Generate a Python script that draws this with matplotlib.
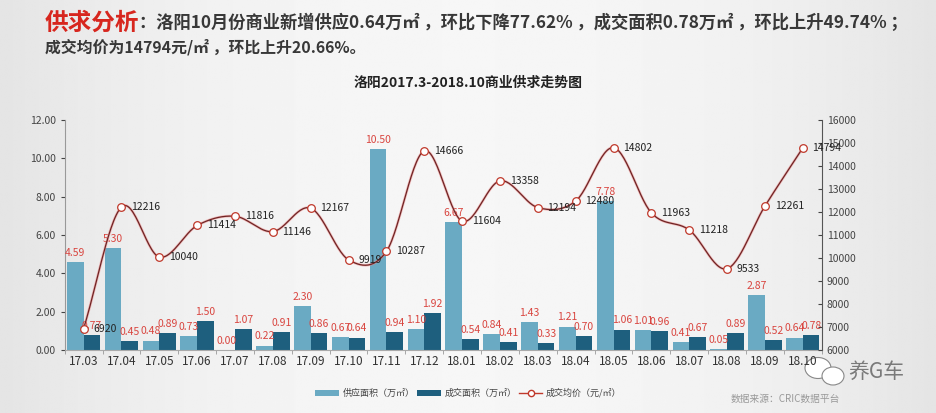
import numpy as np
import matplotlib
matplotlib.use("Agg")
import matplotlib.pyplot as plt
from matplotlib.lines import Line2D
from matplotlib.patches import Ellipse

plt.rcParams['font.family'] = ['Noto Sans CJK SC', 'DejaVu Sans']

months = ['17.03', '17.04', '17.05', '17.06', '17.07', '17.08', '17.09', '17.10',
          '17.11', '17.12', '18.01', '18.02', '18.03', '18.04', '18.05', '18.06',
          '18.07', '18.08', '18.09', '18.10']
supply = [4.59, 5.30, 0.48, 0.73, 0.00, 0.22, 2.30, 0.67, 10.50, 1.10,
          6.67, 0.84, 1.43, 1.21, 7.78, 1.01, 0.41, 0.05, 2.87, 0.64]
deal = [0.77, 0.45, 0.89, 1.50, 1.07, 0.91, 0.86, 0.64, 0.94, 1.92,
        0.54, 0.41, 0.33, 0.70, 1.06, 0.96, 0.67, 0.89, 0.52, 0.78]
price = [6920, 12216, 10040, 11414, 11816, 11146, 12167, 9919, 10287, 14666,
         11604, 13358, 12194, 12480, 14802, 11963, 11218, 9533, 12261, 14794]

light = '#6aaac3'
dark = '#1e5f7e'
red_lab = '#d9453f'

fig = plt.figure(figsize=(9.37, 4.13), dpi=100)
W, H = 937, 413

# soft grey background, darker at the edges
bg = fig.add_axes([0, 0, 1, 1], zorder=-10)
g = np.linspace(-1, 1, 400)
shade = 0.965 - 0.07 * np.abs(g) ** 2.2
bg.imshow(np.tile(shade, (10, 1)), cmap='gray', vmin=0, vmax=1, aspect='auto',
          extent=[0, 1, 0, 1])
bg.set_xlim(0, 1)
bg.set_ylim(0, 1)
bg.axis('off')

ax = fig.add_axes([0.069, 0.153, 0.808, 0.556])
ax.patch.set_alpha(0)
x = np.arange(len(months))
w = 0.44
ax.bar(x - w / 2, supply, w, color=light, label='供应面积（万㎡）', zorder=2)
ax.bar(x + w / 2, deal, w, color=dark, label='成交面积（万㎡）', zorder=2)
for i in range(len(months)):
    ax.annotate(f'{supply[i]:.2f}', (x[i] - w / 2, supply[i]), xytext=(0, 3),
                textcoords='offset points', ha='center', va='bottom',
                fontsize=7.5, color=red_lab, zorder=5)
    ax.annotate(f'{deal[i]:.2f}', (x[i] + w / 2, deal[i]), xytext=(0, 3),
                textcoords='offset points', ha='center', va='bottom',
                fontsize=7.5, color=red_lab, zorder=5)

ax.set_xlim(-0.5, len(months) - 0.5)
ax.set_ylim(0, 12)
ax.set_yticks(np.arange(0, 12.1, 2))
ax.set_yticklabels([f'{v:.2f}' for v in np.arange(0, 12.1, 2)])
ax.set_xticks(x)
ax.set_xticklabels(months)
ax.set_xticks(np.arange(-0.5, len(months), 1), minor=True)
ax.tick_params(axis='x', which='major', length=0, labelsize=8.5, colors='#333333', pad=4)
ax.tick_params(axis='x', which='minor', length=3, color='#999999')
ax.tick_params(axis='y', labelsize=7.5, colors='#444444', length=3)
for s in ['top', 'right']:
    ax.spines[s].set_visible(False)
ax.spines['left'].set_color('#999999')
ax.spines['bottom'].set_color('#aaaaaa')

ax2 = ax.twinx()
ax2.set_ylim(6000, 16000)
ax2.set_yticks(np.arange(6000, 16001, 1000))
ax2.tick_params(axis='y', labelsize=7.5, colors='#444444', length=3, direction='in')
for s in ['top', 'left', 'bottom']:
    ax2.spines[s].set_visible(False)
ax2.spines['right'].set_color('#555555')

# smooth curve through the price points (Catmull-Rom)
px = np.array(x, dtype=float)
py = np.array(price, dtype=float)
P = np.column_stack([px, py])
P = np.vstack([2 * P[0] - P[1], P, 2 * P[-1] - P[-2]])
t = np.linspace(0, 1, 30)[:, None]
segs = []
for k in range(1, len(P) - 2):
    p0, p1, p2, p3 = P[k - 1], P[k], P[k + 1], P[k + 2]
    c = 0.5 * (2 * p1 + (-p0 + p2) * t + (2 * p0 - 5 * p1 + 4 * p2 - p3) * t ** 2
               + (-p0 + 3 * p1 - 3 * p2 + p3) * t ** 3)
    segs.append(c)
curve = np.vstack(segs)
ax2.plot(curve[:, 0], curve[:, 1], color='#ee8a8a', lw=1.9, zorder=3, alpha=0.55)
ax2.plot(curve[:, 0], curve[:, 1], color='#6e2424', lw=0.9, zorder=3)
ax2.plot(px, py, 'o', ms=5.5, mfc='white', mec='#c0392b', mew=0.9, zorder=4,
         ls='none')
for i in range(len(months)):
    ax2.annotate(str(price[i]), (px[i], py[i]), xytext=(7, 0),
                 textcoords='offset points', ha='left', va='center',
                 fontsize=7.5, color='#222222', zorder=5)

# legend
h1, l1 = ax.get_legend_handles_labels()
h2 = [Line2D([0], [0], color='#c0392b', lw=1, marker='o', ms=4.5,
             mfc='white', mec='#c0392b')]
fig.legend(h1 + h2, l1 + ['成交均价（元/㎡）'], loc='center', ncol=3,
           bbox_to_anchor=(0.5, 0.048), frameon=False, fontsize=6.5,
           handlelength=2.6, handleheight=0.6, columnspacing=0.3,
           handletextpad=0.4, labelcolor='#444444')

# titles and header
fig.text(0.5, 0.80, '洛阳2017.3-2018.10商业供求走势图', ha='center', va='center',
         fontsize=10, fontweight='bold', color='#222222')
t1 = fig.text(45 / W, 0.945, '供求分析', ha='left', va='center', fontsize=17,
              fontweight='bold', color='#d7261e')
fig.canvas.draw()
r = fig.canvas.get_renderer()
bb = t1.get_window_extent(r)
line1 = '：洛阳10月份商业新增供应0.64万㎡ ，环比下降77.62% ，成交面积0.78万㎡ ，环比上升49.74% ；'
line2 = '成交均价为14794元/㎡ ，环比上升20.66%。'


def fit_text(xpx, y, s, right_px, size):
    tt = fig.text(xpx / W, y, s, ha='left', va='center', fontsize=size,
                  fontweight='bold', color='#383838')
    wpx = tt.get_window_extent(r).width
    tt.set_fontsize(size * (right_px - xpx) / wpx)
    return tt


fit_text(bb.x1, 0.945, line1, 907, 12)
fit_text(45, 0.885, line2, 365, 12)

fig.text(0.838, 0.035, '数据来源：CRIC数据平台', ha='center', va='center',
         fontsize=7, color='#999999')

# watermark
for (cx, cy, ew, eh) in [(818, 368, 26, 21), (833, 376, 22, 18)]:
    bg.add_patch(Ellipse((cx / W, 1 - cy / H), ew / W, eh / H, facecolor='white',
                         edgecolor='#888888', lw=0.8, zorder=5))
fig.text(876 / W, 1 - 372 / H, '养G车', ha='center', va='center', fontsize=15,
         color='#7a7a7a')

fig.savefig('out.png', dpi=100)
